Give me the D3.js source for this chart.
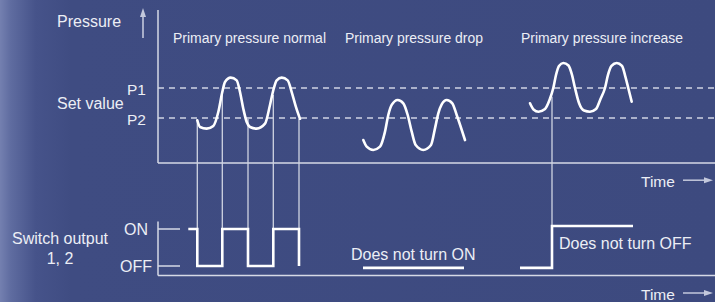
<!DOCTYPE html>
<html>
<head>
<meta charset="utf-8">
<script src="https://cdn.jsdelivr.net/npm/d3@7"></script>
<style>
  html, body { margin: 0; padding: 0; background: #3e4b80; }
  svg { display: block; }
  text { font-family: "Liberation Sans", Arial, Helvetica, sans-serif; fill: #eceef5; }
</style>
</head>
<body>
<svg id="chart" width="715" height="302"></svg>
<script>
// ---------------- data ----------------
// time units (x), pressure units (y, top panel), switch state (y, bottom panel: 0 = OFF, 1 = ON)
const setValueLabels = ["P1", "P2"];
const setValueLevels = [5.0, 3.0];

const scenarioTitles = ["Primary pressure normal", "Primary pressure drop", "Primary pressure increase"];
const scenarioTitleStart = [3.0, 37.4, 72.6];

// pressure waveforms: [time, pressure]
const waveNormal = [
  [7.86, 2.85], [8.4, 2.4], [9.74, 2.29], [11.06, 2.47], [12.06, 3.4], [12.86, 4.73], [13.4, 5.4],
  [14.54, 5.69], [15.74, 5.51], [16.4, 4.73], [17.06, 3.62], [17.74, 2.73], [18.4, 2.4],
  [19.74, 2.29], [21.4, 2.62], [22.4, 3.87], [23.06, 4.85], [23.74, 5.51], [24.74, 5.69],
  [25.94, 5.51], [26.74, 4.73], [27.6, 3.73], [28.4, 2.95]
];
const waveDrop = [
  [41.06, 1.53], [41.74, 1.09], [43.06, 0.87], [44.4, 1.09], [45.4, 2.09], [46.06, 3.2], [46.74, 3.87],
  [47.94, 4.2], [49.06, 3.98], [49.94, 3.2], [50.74, 2.09], [51.54, 1.2], [53.06, 0.87],
  [54.6, 1.2], [55.4, 2.31], [56.06, 3.31], [56.74, 3.91], [57.74, 4.2], [58.86, 3.98],
  [59.74, 3.2], [61.4, 1.53]
];
const waveIncrease = [
  [74.4, 3.98], [75.1, 3.57], [76.1, 3.42], [77.4, 3.6], [78.3, 4.2], [79.06, 5.0], [79.6, 5.87],
  [80.2, 6.47], [81.06, 6.67], [82.1, 6.5], [82.8, 5.87], [83.4, 5.0], [84.2, 4.0], [85.2, 3.5],
  [86.4, 3.42], [87.6, 3.6], [88.5, 4.27], [89.4, 5.0], [90.0, 5.87], [90.7, 6.47], [91.74, 6.67],
  [92.8, 6.47], [93.5, 5.73], [94.1, 4.93], [94.74, 4.09]
];

// switch outputs: [time, state]
const switchNormal   = [[6.06, 1], [7.86, 0], [12.86, 1], [18.0, 0], [23.06, 1], [28.2, 0]];
const switchDrop     = [[41.0, -0.05], [61.2, -0.05]];
const switchIncrease = [[72.4, -0.05], [78.8, 1.08], [95.0, 1.08]];

// switching events linking pressure to output: time, pressure at top, state at bottom
const eventTimes    = [7.86, 12.86, 18.0, 23.06, 28.2, 78.8];
const eventPressure = [2.85, 4.53, 2.93, 4.53, 2.95, 4.42];
const eventState    = [1, 1, 1, 1, 1, 1.08];

const stateLabels = ["OFF", "ON"];
const stateLevels = [0, 1];

// ---------------- scales ----------------
const W = 715, H = 302;
const x  = d3.scaleLinear().domain([0, 111.4]).range([158, 715]);
const yP = d3.scaleLinear().domain([0, 10]).range([163, 13]);
const yS = d3.scaleLinear().domain([0, 1]).range([266, 229]);

const svg = d3.select("#chart");

// background
const defs = svg.append("defs");
const grad = defs.append("linearGradient").attr("id", "bg").attr("x1", 0).attr("x2", 1).attr("y1", 0).attr("y2", 0);
grad.append("stop").attr("offset", "0").attr("stop-color", "#7480b0");
grad.append("stop").attr("offset", "0.015").attr("stop-color", "#5f6ca0");
grad.append("stop").attr("offset", "0.05").attr("stop-color", "#46538a");
grad.append("stop").attr("offset", "0.1").attr("stop-color", "#3f4c82");
grad.append("stop").attr("offset", "1").attr("stop-color", "#3d4a7f");
svg.append("rect").attr("width", W).attr("height", H).attr("fill", "url(#bg)");

const axisColor = "#d6d9e6";
const thinColor = "#d0d4e2";

// ---------------- top panel axes ----------------
svg.append("line").attr("x1", x(0)).attr("x2", x(0)).attr("y1", yP(10.2)).attr("y2", yP(0))
  .attr("stroke", axisColor).attr("stroke-width", 1.5);
svg.append("line").attr("x1", x(0)).attr("x2", x(111.4)).attr("y1", yP(0)).attr("y2", yP(0))
  .attr("stroke", axisColor).attr("stroke-width", 1.5);

// set value dashed lines
svg.selectAll("line.setv").data(setValueLevels).join("line").attr("class", "setv")
  .attr("x1", x(0)).attr("x2", x(111.4))
  .attr("y1", d => yP(d)).attr("y2", d => yP(d))
  .attr("stroke", "#cfd3e3").attr("stroke-width", 1.3).attr("stroke-dasharray", "6,5");

svg.selectAll("text.setv").data(setValueLabels).join("text").attr("class", "setv")
  .attr("x", 127).attr("y", (d, i) => yP(setValueLevels[i]) + 7)
  .attr("font-size", 15.5).text(d => d);

svg.append("text").attr("x", 57).attr("y", 108.5).attr("font-size", 16).text("Set value");
svg.append("text").attr("x", 57).attr("y", 26.7).attr("font-size", 16).text("Pressure");

// pressure arrow
svg.append("line").attr("x1", 143).attr("x2", 143).attr("y1", 38).attr("y2", 14)
  .attr("stroke", "#c3c8dc").attr("stroke-width", 1.6);
svg.append("path").attr("d", "M143,8 L146,17 L140,17 Z").attr("fill", "#c3c8dc");

// titles
const titleLens = [153, 138, 162];
svg.selectAll("text.title").data(scenarioTitles).join("text").attr("class", "title")
  .attr("x", (d, i) => x(scenarioTitleStart[i])).attr("y", 43)
  .attr("font-size", 15.5)
  .attr("textLength", (d, i) => titleLens[i]).attr("lengthAdjust", "spacingAndGlyphs")
  .text(d => d);

// event connecting lines
svg.selectAll("line.event").data(eventTimes).join("line").attr("class", "event")
  .attr("x1", d => x(d)).attr("x2", d => x(d))
  .attr("y1", (d, i) => yP(eventPressure[i])).attr("y2", (d, i) => yS(eventState[i]))
  .attr("stroke", thinColor).attr("stroke-width", 1.3);

// waves
const waveLine = d3.line().x(d => x(d[0])).y(d => yP(d[1])).curve(d3.curveMonotoneX);
[waveNormal, waveDrop, waveIncrease].forEach(w => {
  svg.append("path").attr("d", waveLine(w)).attr("fill", "none")
    .attr("stroke", "#ffffff").attr("stroke-width", 2.6)
    .attr("stroke-linecap", "round").attr("stroke-linejoin", "round");
});

// time labels
function timeLabel(yb) {
  svg.append("text").attr("x", 641).attr("y", yb).attr("font-size", 15.5).text("Time");
  const ya = yb - 6.5;
  svg.append("line").attr("x1", 683).attr("x2", 706).attr("y1", ya).attr("y2", ya)
    .attr("stroke", "#c3c8dc").attr("stroke-width", 1.5);
  svg.append("path").attr("d", `M713,${ya} L704,${ya - 3} L704,${ya + 3} Z`).attr("fill", "#c3c8dc");
}
timeLabel(186.7);
timeLabel(299.5);

// ---------------- bottom panel ----------------
svg.append("line").attr("x1", x(0)).attr("x2", x(0)).attr("y1", yS(1.2)).attr("y2", yS(-0.26))
  .attr("stroke", axisColor).attr("stroke-width", 1.5);
svg.append("line").attr("x1", x(0)).attr("x2", x(111.4)).attr("y1", yS(-0.26)).attr("y2", yS(-0.26))
  .attr("stroke", axisColor).attr("stroke-width", 1.5);

// ON / OFF ticks
svg.selectAll("line.stick").data(stateLevels).join("line").attr("class", "stick")
  .attr("x1", x(0)).attr("x2", x(4.4)).attr("y1", d => yS(d)).attr("y2", d => yS(d))
  .attr("stroke", axisColor).attr("stroke-width", 1.5);
svg.selectAll("text.stick").data(stateLabels).join("text").attr("class", "stick")
  .attr("x", 136).attr("y", (d, i) => yS(stateLevels[i]) + 6)
  .attr("text-anchor", "middle").attr("font-size", 16).text(d => d);

svg.append("text").attr("x", 60).attr("y", 243.5).attr("text-anchor", "middle").attr("font-size", 16).text("Switch output");
svg.append("text").attr("x", 60).attr("y", 263.5).attr("text-anchor", "middle").attr("font-size", 16).text("1, 2");

// switch output traces
const stepLine = d3.line().x(d => x(d[0])).y(d => yS(d[1])).curve(d3.curveStepAfter);
[switchNormal, switchDrop, switchIncrease].forEach(s => {
  svg.append("path").attr("d", stepLine(s)).attr("fill", "none")
    .attr("stroke", "#ffffff").attr("stroke-width", 2.6);
});

svg.append("text").attr("x", 351).attr("y", 259.5).attr("font-size", 16).text("Does not turn ON");
svg.append("text").attr("x", 559).attr("y", 249).attr("font-size", 16).text("Does not turn OFF");
</script>
</body>
</html>
